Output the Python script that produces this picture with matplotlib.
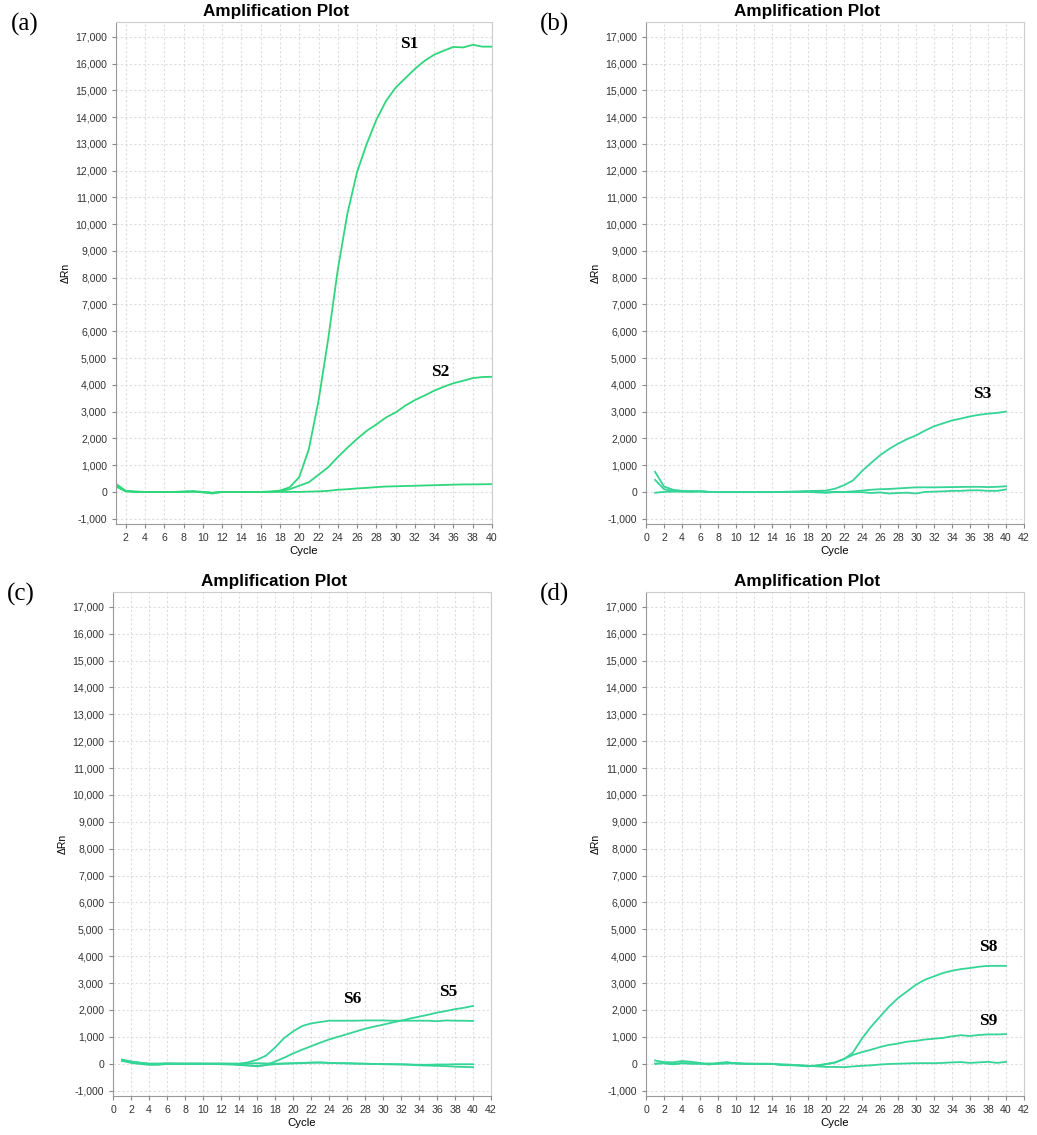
import numpy as np
import matplotlib
matplotlib.use("Agg")
import matplotlib.pyplot as plt

plt.rcParams['font.family'] = ['Liberation Sans', 'DejaVu Sans']

cycles = np.arange(1, 41)

# (a)
a_s1 = [300, 40, 10, 0, 0, 0, 0, 10, 20, -20, -60, 0, 0, 0, 0, 0, 10, 50, 170, 550,
        1600, 3400, 5700, 8300, 10400, 11950, 13000, 13900, 14600, 15100,
        15450, 15800, 16100, 16330, 16480, 16620, 16600, 16700, 16630, 16630]
a_s2 = [250, 30, 10, 0, 0, 0, 0, 10, 20, 0, -40, 0, 0, 0, 0, 0, 10, 30, 100, 230,
        360, 640, 920, 1300, 1650, 1980, 2280, 2520, 2780, 2970,
        3220, 3430, 3600, 3780, 3930, 4060, 4150, 4250, 4290, 4300]
a_neg = [200, 20, 0, 0, 0, 0, 0, 0, 10, 0, -30, 0, 0, 0, 0, 0, 0, 0, 0, 0,
         10, 20, 40, 80, 100, 130, 150, 180, 200, 210,
         220, 230, 240, 250, 260, 270, 280, 280, 285, 290]

# (b)
b_s3 = [750, 200, 80, 40, 20, 10, 0, 0, 0, 0, 0, 0, 0, 0, 0, 10, 20, 30, 40, 50,
        120, 250, 430, 780, 1080, 1370, 1600, 1800, 1970, 2110,
        2290, 2450, 2560, 2670, 2740, 2820, 2880, 2920, 2950, 3000]
b_low1 = [450, 100, 30, 10, 0, 30, 0, 0, 0, 0, 0, 0, 0, 0, 0, 0, 0, 20, 0, -20,
          0, 0, 20, 50, 80, 100, 110, 130, 150, 170,
          170, 170, 175, 180, 185, 190, 190, 180, 190, 210]
b_low2 = [-30, 0, 10, 20, 30, 20, 0, -10, -10, -10, -10, -10, -10, -10, 0, 0, 0, 0, -20, -30,
          -10, -10, -10, -10, -40, -20, -60, -40, -30, -60,
          0, 10, 20, 40, 40, 60, 60, 40, 40, 90]

# (c)
c_s6 = [150, 80, 40, 0, 0, 10, 0, 0, 0, 0, 0, 0, 0, 0, 50, 150, 300, 600, 950, 1200,
        1400, 1500, 1550, 1600, 1600, 1600, 1600, 1610, 1610, 1610,
        1600, 1600, 1600, 1600, 1600, 1580, 1610, 1600, 1600, 1590]
c_s5 = [120, 30, -10, -40, -20, 0, 0, 0, 0, 0, 0, -10, -10, -20, -60, -100, -50, 80, 220, 380,
        520, 650, 780, 900, 1000, 1100, 1200, 1300, 1380, 1450,
        1530, 1600, 1680, 1750, 1820, 1900, 1960, 2030, 2080, 2150]
c_low1 = [150, 80, 20, -30, -40, -10, 0, 0, 0, 0, -10, -20, -30, -50, -70, -80, -50, -20, 0, 10,
          20, 40, 40, 30, 20, 10, 0, 0, -10, -20,
          -20, -30, -40, -60, -70, -80, -90, -110, -120, -130]
c_low2 = [100, 60, 30, 0, 0, 10, 0, 0, 0, 0, 0, 10, 0, 0, 10, 20, 10, 0, 10, 20,
          30, 40, 50, 30, 20, 20, 10, 0, -10, -10,
          -20, -20, -30, -40, -40, -30, -30, -20, -20, -20]

# (d)
d_s8 = [120, 60, 50, 100, 70, 30, -30, 30, 60, 0, 0, 0, 0, 0, -50, -60, -70, -100, -60, -10,
        50, 170, 420, 940, 1375, 1750, 2125, 2440, 2690, 2940,
        3125, 3250, 3375, 3460, 3520, 3560, 3610, 3640, 3640, 3640]
d_s9 = [0, 20, -20, 20, 10, 0, -20, 0, 20, 20, 0, 0, -10, -10, -30, -40, -60, -80, -80, -20,
        40, 180, 330, 430, 520, 620, 700, 750, 820, 850,
        900, 930, 960, 1020, 1060, 1030, 1070, 1090, 1090, 1100]
d_low = [0, 20, -20, 20, 0, 0, 10, 0, 10, 20, 0, -10, -10, -10, -30, -40, -60, -80, -100, -120,
         -120, -130, -100, -80, -60, -30, -10, 0, 10, 20,
         20, 20, 30, 50, 60, 30, 50, 70, 30, 70]

y_ticks = list(range(-1000, 17001, 1000))


def _draw_panel(ax, curves, labels, letter, xlim, xticks, color):
    for y in curves:
        ax.plot(cycles, y, color=color, lw=1.3)
    for text, x, y in labels:
        ax.text(x, y, text, fontsize=12.5, fontweight="bold", family="Liberation Serif",
                ha="center", va="center")
    ax.set_xlim(*xlim)
    ax.set_ylim(-1200, 17550)
    ax.set_xticks(xticks)
    ax.set_yticks(y_ticks)
    ax.set_yticklabels([f"{v:,}" for v in y_ticks])
    ax.tick_params(labelsize=7.6, length=3, color="#888888", labelcolor="#333333")
    ax.grid(True, color="#dddddd", lw=0.8, linestyle=(0, (2, 2)))
    for side in ["left", "bottom"]:
        ax.spines[side].set_color("#999999")
    for side in ["top", "right"]:
        ax.spines[side].set_color("#cccccc")
    ax.set_title("Amplification Plot", fontsize=12.3, fontweight="bold", x=0.426, pad=4)
    ax.set_xlabel("Cycle", fontsize=8.2, labelpad=2)
    ax.set_ylabel("ΔRn", fontsize=7.5, labelpad=3)
    ax.text(-0.28, 0.995, letter, transform=ax.transAxes, fontsize=18,
            family="Liberation Serif", ha="left", va="center")


fig = plt.figure(figsize=(10.37, 11.35), dpi=100)
ax_a = fig.add_axes([0.1119, 0.5383, 0.3626, 0.4423])
ax_b = fig.add_axes([0.623, 0.5383, 0.3645, 0.4423])
ax_c = fig.add_axes([0.109, 0.0344, 0.3645, 0.4440])
ax_d = fig.add_axes([0.623, 0.0344, 0.3645, 0.4440])

_draw_panel(ax_a, [a_s1, a_s2, a_neg], [("S1", 31.4, 16740), ("S2", 34.6, 4460)],
            "(a)", (1, 40), range(2, 41, 2), "#2fd67c")
_draw_panel(ax_b, [b_s3, b_low1, b_low2], [("S3", 37.4, 3660)],
            "(b)", (0, 42), range(0, 43, 2), "#35d497")
_draw_panel(ax_c, [c_s6, c_s5, c_low1, c_low2], [("S6", 26.6, 2425), ("S5", 37.2, 2650)],
            "(c)", (0, 42), range(0, 43, 2), "#35d497")
_draw_panel(ax_d, [d_s8, d_s9, d_low], [("S8", 38, 4330), ("S9", 38, 1600)],
            "(d)", (0, 42), range(0, 43, 2), "#35d497")

fig.savefig("out.png", dpi=100)
